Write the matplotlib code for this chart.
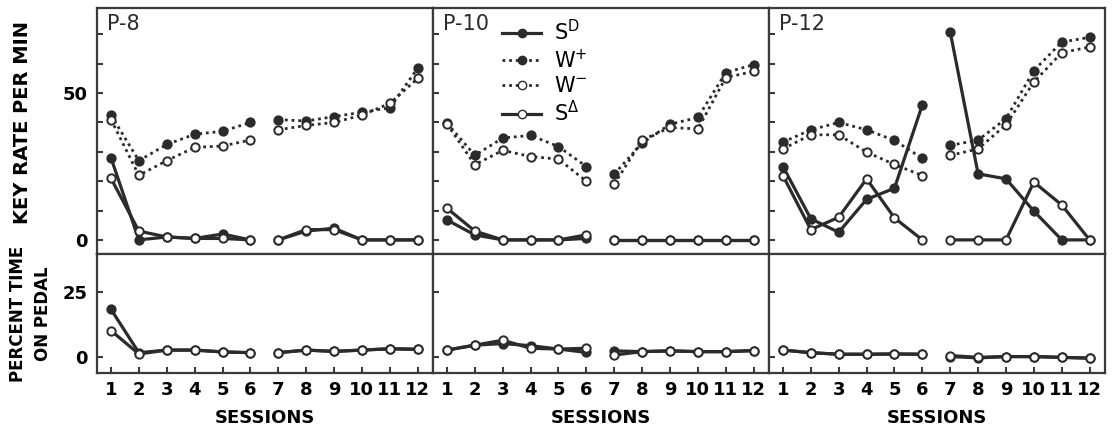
import matplotlib
matplotlib.use("Agg")
import matplotlib.pyplot as plt

sessions = list(range(1, 13))
subjects = ["P-8", "P-10", "P-12"]

# key rate per min (top panels)
sd_rate = {
    "P-8":  [28, 0, 1, 0.5, 2, 0, 0, 3, 4, 0, 0, 0],
    "P-10": [6.8, 1.7, 0, 0, 0, 0.5, 0, 0, 0, 0, 0, 0],
    "P-12": [25, 7.2, 2.6, 13.8, 17.6, 46, 70.8, 22.5, 20.8, 9.8, 0, 0],
}
wplus_rate = {
    "P-8":  [42.5, 27, 32.5, 36, 37, 40, 41, 40.5, 42, 43.5, 45, 58.5],
    "P-10": [39.8, 28.8, 34.7, 35.6, 31.8, 25, 22.4, 33, 39.4, 41.7, 57, 59.7],
    "P-12": [33.3, 37.5, 40, 37.5, 33.9, 27.8, 32.2, 34, 41.3, 57.7, 67.4, 69],
}
wminus_rate = {
    "P-8":  [41, 22, 27, 31.5, 32, 34, 37.5, 39, 40, 42.5, 46.5, 55],
    "P-10": [39.5, 25.6, 30.5, 28.4, 27.5, 20, 19, 34, 38.3, 37.8, 55.3, 57.4],
    "P-12": [31, 35.8, 35.8, 29.9, 25.7, 21.9, 28.8, 31, 39.2, 53.8, 63.8, 65.7],
}
sdelta_rate = {
    "P-8":  [21, 3, 1, 0.5, 0.5, 0, 0, 3.5, 3.5, 0, 0, 0],
    "P-10": [10.8, 3, 0, 0, 0, 1.7, 0, 0, 0, 0, 0, 0],
    "P-12": [21.9, 3.5, 7.7, 20.8, 7.5, 0, 0, 0, 0, 19.7, 11.9, 0],
}

# percent time on pedal (bottom panels)
sd_pedal = {
    "P-8":  [18.2, 1.5, 2.5, 2.5, 1.8, 1.5, 1.5, 2.5, 2, 2.5, 3, 2.8],
    "P-10": [2.5, 4.4, 5, 4.2, 2.9, 1.6, 2.2, 1.9, 2.2, 1.9, 1.9, 2.3],
    "P-12": [2.5, 1.5, 0.9, 0.9, 1, 0.9, 0, -0.5, 0, 0, -0.3, -0.6],
}
sdelta_pedal = {
    "P-8":  [10, 1, 2.5, 2.5, 1.8, 1.5, 1.5, 2.5, 2, 2.5, 3, 2.8],
    "P-10": [2.5, 4.4, 6.3, 3.2, 2.9, 3.2, 0.6, 1.9, 2.2, 1.9, 1.9, 2.3],
    "P-12": [2.5, 1.5, 0.9, 0.9, 1, 0.9, 0.4, -0.3, 0, 0, -0.3, -0.6],
}

INK = "#2b2b2b"
dotted = (0, (1, 1.4))
FONT = "DejaVu Sans"

fig = plt.figure(figsize=(11.14, 4.30), dpi=100)
gs = fig.add_gridspec(2, 3, left=0.0871, right=0.9919, top=0.9814, bottom=0.1333,
                      wspace=0, hspace=0, height_ratios=[246, 118.7])


def draw(ax, x, y, filled, ls):
    # sessions 1-6 and 7-12 are not joined
    for part in (slice(0, 6), slice(6, 12)):
        ax.plot(x[part], y[part], color=INK, lw=2.3 if ls == "-" else 2.0, linestyle=ls,
                marker="o", ms=6, mec=INK, mew=1.4,
                mfc=INK if filled else "white", solid_capstyle="round")


def style(ax):
    for sp in ax.spines.values():
        sp.set_linewidth(1.6)
        sp.set_color("#3a3a3a")
    ax.tick_params(direction="in", length=4, width=1.5, color="#3a3a3a",
                   labelsize=13, pad=7)
    ax.set_xlim(0.5, 12.55)


for j, subj in enumerate(subjects):
    top = fig.add_subplot(gs[0, j])
    bot = fig.add_subplot(gs[1, j])

    draw(top, sessions, wplus_rate[subj], True, dotted)
    draw(top, sessions, wminus_rate[subj], False, dotted)
    draw(top, sessions, sd_rate[subj], True, "-")
    draw(top, sessions, sdelta_rate[subj], False, "-")

    draw(bot, sessions, sd_pedal[subj], True, "-")
    draw(bot, sessions, sdelta_pedal[subj], False, "-")

    style(top)
    style(bot)
    top.set_ylim(-4.8, 79)
    top.set_yticks(range(0, 80, 10))
    top.set_xticks([])
    bot.set_ylim(-6.2, 39.5)
    bot.set_yticks([0, 25])
    bot.set_xticks(sessions)
    bot.set_xticklabels([str(s) for s in sessions], fontweight="bold", family=FONT)
    bot.tick_params(axis="x", pad=6)

    if j == 0:
        top.set_yticklabels(["0", "", "", "", "", "50", "", ""], fontweight="bold")
        bot.set_yticklabels(["0", "25"], fontweight="bold")
    else:
        top.set_yticklabels([])
        bot.set_yticklabels([])

    top.text(0.03, 0.975, subj, transform=top.transAxes, fontsize=15,
             va="top", ha="left", color=INK, family=FONT)
    bot.set_xlabel("SESSIONS", fontsize=13, fontweight="bold", labelpad=7)

    if subj == "P-10":
        handles = [
            plt.Line2D([], [], color=INK, lw=2.3, marker="o", ms=6, mfc=INK, mec=INK),
            plt.Line2D([], [], color=INK, lw=2.0, ls=dotted, marker="o", ms=6, mfc=INK, mec=INK),
            plt.Line2D([], [], color=INK, lw=2.0, ls=dotted, marker="o", ms=6, mfc="white", mec=INK),
            plt.Line2D([], [], color=INK, lw=2.3, marker="o", ms=6, mfc="white", mec=INK),
        ]
        labels = [r"S$^{\mathrm{D}}$", r"W$^{+}$", r"W$^{-}$", r"S$^{\Delta}$"]
        top.legend(handles, labels, loc="upper left", bbox_to_anchor=(0.205, 0.955),
                   frameon=False, fontsize=15, handlelength=1.9, handletextpad=0.6,
                   labelspacing=0.2, borderpad=0, borderaxespad=0)

fig.text(0.02, 0.715, "KEY RATE PER MIN", rotation=90, ha="center", va="center",
         fontsize=14, fontweight="bold")
fig.text(0.027, 0.27, "PERCENT TIME\nON PEDAL", rotation=90, ha="center", va="center",
         fontsize=12, fontweight="bold", multialignment="center", linespacing=1.5)

fig.savefig("out.png", dpi=100)
